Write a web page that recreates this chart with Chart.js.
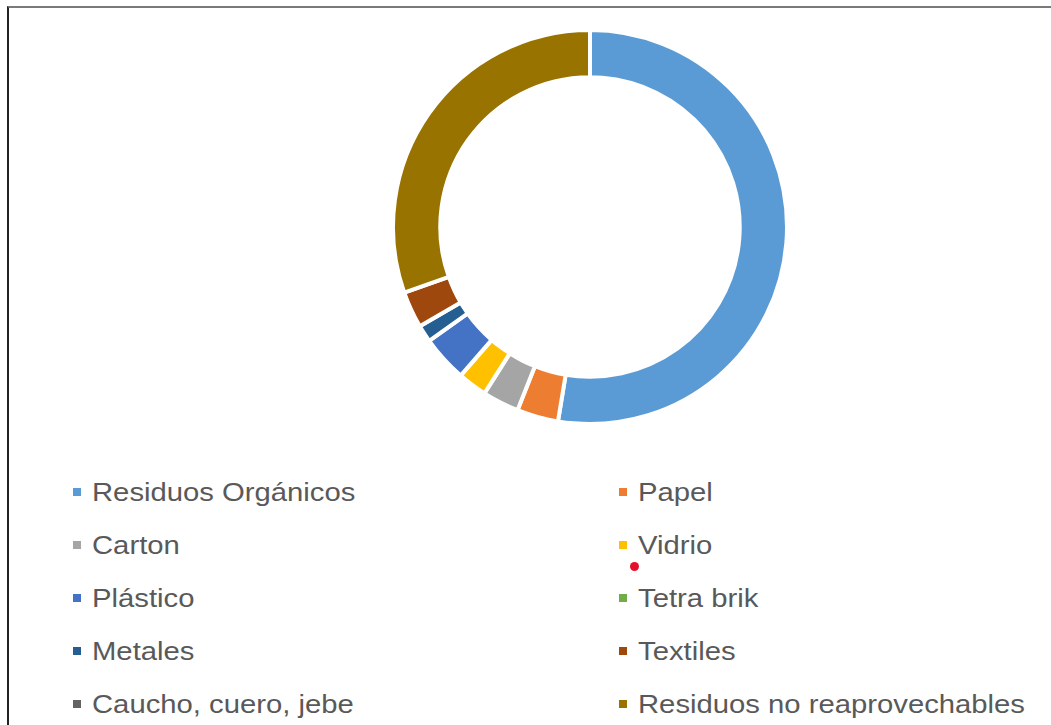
<!DOCTYPE html>
<html>
<head>
<meta charset="utf-8">
<script src="https://cdn.jsdelivr.net/npm/chart.js@4/dist/chart.umd.min.js"></script>
<style>
  html, body { margin: 0; padding: 0; background: #fff; }
  body { width: 1051px; height: 725px; position: relative; overflow: hidden; font-family: "Liberation Sans", Arial, sans-serif; }
  #frame { position: absolute; left: 7px; top: 6px; right: 0; bottom: 0; border-top: 2px solid #7a7a7a; border-left: 2px solid #222; }
  #chart-box { position: absolute; left: 390px; top: 28px; width: 400px; height: 398px; }
  #legend { position: absolute; left: 0; top: 0; }
  .leg-item { position: absolute; height: 30px; display: flex; align-items: center; }
  .leg-box { width: 8px; height: 8px; margin-right: 11px; }
  .leg-text { font-size: 26px; color: #595959; transform: scaleX(1.125); transform-origin: left center; white-space: nowrap; }
  #dot { position: absolute; left: 630px; top: 562px; width: 9px; height: 9px; border-radius: 50%; background: #e3102b; }
</style>
</head>
<body>
<div id="frame"></div>
<div id="chart-box"><canvas id="donut"></canvas></div>
<div id="legend"></div>
<div id="dot"></div>
<script>
// composition of waste, percent
const categories = ['Residuos Orgánicos', 'Papel', 'Carton', 'Vidrio', 'Plástico',
  'Tetra brik', 'Metales', 'Textiles', 'Caucho, cuero, jebe', 'Residuos no reaprovechables'];
const shares = [52.6, 3.4, 3.0, 2.4, 3.8, 0, 1.4, 3.0, 0, 30.4];
const colors = ['#5B9BD5', '#ED7D31', '#A5A5A5', '#FFC000', '#4472C4',
  '#70AD47', '#255E91', '#9E480E', '#636363', '#997300'];

new Chart(document.getElementById('donut'), {
  type: 'doughnut',
  data: {
    labels: categories,
    datasets: [{
      data: shares,
      backgroundColor: colors,
      borderColor: '#ffffff',
      borderWidth: 4
    }]
  },
  options: {
    responsive: true,
    maintainAspectRatio: false,
    animation: false,
    cutout: '76%',
    layout: { padding: 0 },
    plugins: {
      legend: { display: false },
      tooltip: { enabled: false }
    }
  }
});

// legend in two columns, same order as the data
const legend = document.getElementById('legend');
categories.forEach((name, i) => {
  const col = i % 2;
  const row = Math.floor(i / 2);
  const item = document.createElement('div');
  item.className = 'leg-item';
  item.style.left = (col === 0 ? 73 : 619) + 'px';
  item.style.top = (477 + row * 53) + 'px';
  const box = document.createElement('span');
  box.className = 'leg-box';
  box.style.background = colors[i];
  const text = document.createElement('span');
  text.className = 'leg-text';
  text.textContent = name;
  item.appendChild(box);
  item.appendChild(text);
  legend.appendChild(item);
});
</script>
</body>
</html>
